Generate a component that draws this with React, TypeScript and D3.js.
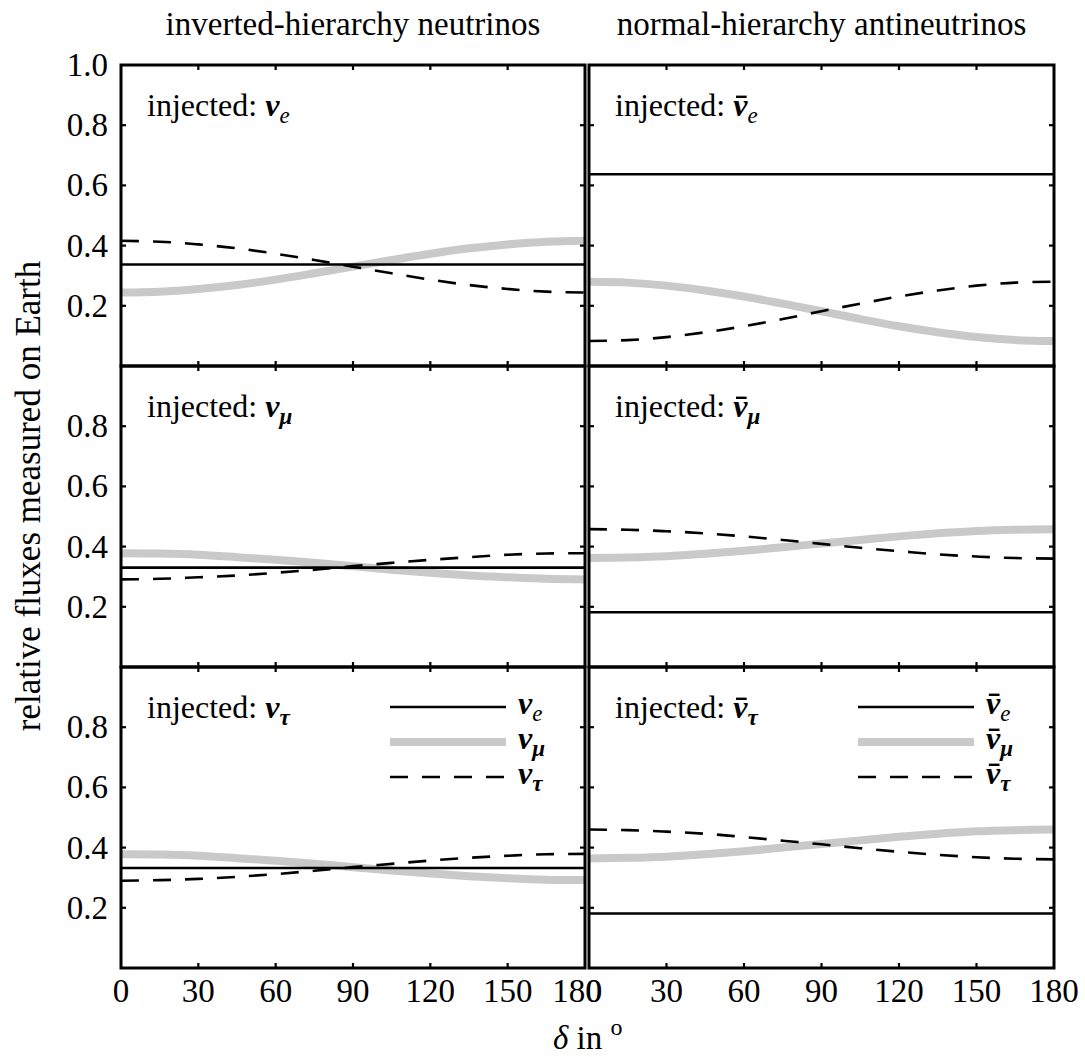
import React, { useLayoutEffect, useRef, useState } from "react";
import * as d3 from "d3";

const delta = [0, 15, 30, 45, 60, 75, 90, 105, 120, 135, 150, 165, 180];
const xTicks = [0, 30, 60, 90, 120, 150, 180];
const yTicksTop = [0.2, 0.4, 0.6, 0.8, 1.0];
const yTicksOther = [0.2, 0.4, 0.6, 0.8];
const innerTicks = [0.2, 0.4, 0.6, 0.8];

const columnTitles = ["inverted-hierarchy neutrinos", "normal-hierarchy antineutrinos"];
const flavours = ["e", "μ", "τ"];

// inverted hierarchy neutrinos
const ihInjE_e = [0.337, 0.337, 0.337, 0.337, 0.337, 0.337, 0.337, 0.337, 0.337, 0.337, 0.337, 0.337, 0.337];
const ihInjE_mu = [0.244, 0.247, 0.256, 0.269, 0.287, 0.308, 0.330, 0.352, 0.373, 0.391, 0.404, 0.413, 0.416];
const ihInjE_tau = [0.416, 0.413, 0.404, 0.391, 0.373, 0.352, 0.330, 0.308, 0.287, 0.269, 0.256, 0.247, 0.244];

const ihInjMu_e = [0.330, 0.330, 0.330, 0.330, 0.330, 0.330, 0.330, 0.330, 0.330, 0.330, 0.330, 0.330, 0.330];
const ihInjMu_mu = [0.378, 0.377, 0.373, 0.365, 0.356, 0.346, 0.335, 0.323, 0.313, 0.304, 0.298, 0.293, 0.291];
const ihInjMu_tau = [0.291, 0.293, 0.298, 0.304, 0.313, 0.323, 0.335, 0.346, 0.356, 0.365, 0.373, 0.377, 0.378];

const ihInjTau_e = [0.332, 0.332, 0.332, 0.332, 0.332, 0.332, 0.332, 0.332, 0.332, 0.332, 0.332, 0.332, 0.332];
const ihInjTau_mu = [0.378, 0.377, 0.373, 0.365, 0.356, 0.346, 0.335, 0.324, 0.314, 0.305, 0.298, 0.293, 0.292];
const ihInjTau_tau = [0.290, 0.292, 0.296, 0.303, 0.312, 0.323, 0.335, 0.346, 0.357, 0.366, 0.373, 0.378, 0.379];

// normal hierarchy antineutrinos
const nhInjE_e = [0.637, 0.637, 0.637, 0.637, 0.637, 0.637, 0.637, 0.637, 0.637, 0.637, 0.637, 0.637, 0.637];
const nhInjE_mu = [0.280, 0.277, 0.267, 0.251, 0.231, 0.207, 0.182, 0.156, 0.132, 0.112, 0.096, 0.086, 0.083];
const nhInjE_tau = [0.083, 0.086, 0.096, 0.112, 0.132, 0.156, 0.182, 0.207, 0.231, 0.251, 0.267, 0.277, 0.280];

const nhInjMu_e = [0.182, 0.182, 0.182, 0.182, 0.182, 0.182, 0.182, 0.182, 0.182, 0.182, 0.182, 0.182, 0.182];
const nhInjMu_mu = [0.362, 0.364, 0.368, 0.376, 0.386, 0.398, 0.410, 0.422, 0.434, 0.444, 0.452, 0.456, 0.458];
const nhInjMu_tau = [0.458, 0.456, 0.451, 0.444, 0.434, 0.422, 0.409, 0.396, 0.385, 0.374, 0.367, 0.362, 0.360];

const nhInjTau_e = [0.181, 0.181, 0.181, 0.181, 0.181, 0.181, 0.181, 0.181, 0.181, 0.181, 0.181, 0.181, 0.181];
const nhInjTau_mu = [0.364, 0.366, 0.370, 0.378, 0.388, 0.400, 0.412, 0.424, 0.436, 0.446, 0.454, 0.458, 0.460];
const nhInjTau_tau = [0.460, 0.458, 0.453, 0.446, 0.435, 0.423, 0.411, 0.398, 0.386, 0.376, 0.368, 0.363, 0.361];

const W = 1085;
const H = 1057;
const FONT = "'Liberation Serif', 'Times New Roman', Times, serif";
const GRAY = "#c9c9c9";
const colX: [number, number][] = [[121, 585], [589, 1054]];
const rowY: [number, number][] = [[65, 366], [366, 667], [667, 968]];

const panels = [
  { col: 0, row: 0, inj: 0, series: [ihInjE_e, ihInjE_mu, ihInjE_tau] },
  { col: 0, row: 1, inj: 1, series: [ihInjMu_e, ihInjMu_mu, ihInjMu_tau] },
  { col: 0, row: 2, inj: 2, series: [ihInjTau_e, ihInjTau_mu, ihInjTau_tau] },
  { col: 1, row: 0, inj: 0, series: [nhInjE_e, nhInjE_mu, nhInjE_tau] },
  { col: 1, row: 1, inj: 1, series: [nhInjMu_e, nhInjMu_mu, nhInjMu_tau] },
  { col: 1, row: 2, inj: 2, series: [nhInjTau_e, nhInjTau_mu, nhInjTau_tau] },
];

const styles = [
  { stroke: "#000", width: 2.6, dash: undefined as string | undefined },
  { stroke: GRAY, width: 8, dash: undefined as string | undefined },
  { stroke: "#000", width: 2.6, dash: "18 14" },
];

function NuLabel({ x, y, prefix, bar, sub, size }: { x: number; y: number; prefix: string; bar: boolean; sub: string; size: number }) {
  const ref = useRef<SVGTextElement>(null);
  const [ext, setExt] = useState<{ x: number; w: number } | null>(null);
  useLayoutEffect(() => {
    if (!bar || !ref.current) return;
    try {
      const r = ref.current.getExtentOfChar(prefix.length);
      setExt({ x: r.x, w: r.width });
    } catch (e) {
      setExt(null);
    }
  }, [bar, prefix]);
  return (
    <g>
      <text ref={ref} x={x} y={y} fontFamily={FONT} fontSize={size}>
        {prefix && <tspan>{prefix}</tspan>}
        <tspan fontWeight="bold" fontStyle="italic">ν</tspan>
        <tspan fontStyle="italic" fontWeight={sub === "e" ? "normal" : "bold"} fontSize={size * 0.72} dy={7}>
          {sub}
        </tspan>
      </text>
      {bar && ext && (
        <line
          x1={ext.x + ext.w * 0.2}
          x2={ext.x + ext.w * 0.95}
          y1={y - size * 0.6}
          y2={y - size * 0.6}
          stroke="#000"
          strokeWidth={2.4}
        />
      )}
    </g>
  );
}

export default function App() {
  return (
    <svg width={W} height={H} style={{ display: "block", position: "absolute", left: 0, top: 0, fontFamily: FONT }}>
      <rect width={W} height={H} fill="#fff" />
      {columnTitles.map((t, i) => (
        <text key={t} x={(colX[i][0] + colX[i][1]) / 2} y={35} textAnchor="middle" fontFamily={FONT} fontSize={33}>
          {t}
        </text>
      ))}
      {panels.map((p, pi) => {
        const [x0, x1] = colX[p.col];
        const [y0, y1] = rowY[p.row];
        const xs = d3.scaleLinear().domain([0, 180]).range([x0, x1]);
        const ys = d3.scaleLinear().domain([0, 1]).range([y1, y0]);
        const line = d3
          .line<number>()
          .x((_, i) => xs(delta[i]))
          .y((v) => ys(v))
          .curve(d3.curveCatmullRom);
        const order = [1, 0, 2];
        const bar = p.col === 1;
        return (
          <g key={pi}>
            {order.map((si) => (
              <path
                key={si}
                d={line(p.series[si]) || ""}
                fill="none"
                stroke={styles[si].stroke}
                strokeWidth={styles[si].width}
                strokeDasharray={styles[si].dash}
              />
            ))}
            <rect x={x0} y={y0} width={x1 - x0} height={y1 - y0} fill="none" stroke="#000" strokeWidth={3} />
            {xTicks.slice(1, -1).map((t) => (
              <g key={"xt" + t}>
                <line x1={xs(t)} x2={xs(t)} y1={y1} y2={y1 - 5} stroke="#000" strokeWidth={2.2} />
                <line x1={xs(t)} x2={xs(t)} y1={y0} y2={y0 + 5} stroke="#000" strokeWidth={2.2} />
              </g>
            ))}
            {innerTicks.map((t) => (
              <g key={"yt" + t}>
                <line x1={x0} x2={x0 + 5} y1={ys(t)} y2={ys(t)} stroke="#000" strokeWidth={2.2} />
                <line x1={x1} x2={x1 - 5} y1={ys(t)} y2={ys(t)} stroke="#000" strokeWidth={2.2} />
              </g>
            ))}
            <NuLabel x={x0 + 26} y={y0 + 51} prefix="injected: " bar={bar} sub={flavours[p.inj]} size={32} />
            {p.row === 2 &&
              flavours.map((f, fi) => {
                const ly = y0 + 40 + fi * 35;
                return (
                  <g key={"lg" + fi}>
                    <line
                      x1={x0 + 269}
                      x2={x0 + 385}
                      y1={ly}
                      y2={ly}
                      stroke={styles[fi].stroke}
                      strokeWidth={styles[fi].width}
                      strokeDasharray={styles[fi].dash}
                    />
                    <NuLabel x={x0 + 397} y={ly + 7} prefix="" bar={bar} sub={f} size={32} />
                  </g>
                );
              })}
            {p.row === 2 &&
              xTicks.map((t, ti) => {
                // the left column's 180 and the right column's 0 share one spot in the reference
                let lx = xs(t);
                if (p.col === 0 && ti === xTicks.length - 1) lx -= 8;
                if (p.col === 1 && ti === 0) lx += 5;
                return (
                  <text key={"xl" + t} x={lx} y={1002} textAnchor="middle" fontFamily={FONT} fontSize={33}>
                    {t}
                  </text>
                );
              })}
            {p.col === 0 &&
              (p.row === 0 ? yTicksTop : yTicksOther).map((t) => (
                <text key={"yl" + t} x={108} y={ys(t) + 11} textAnchor="end" fontFamily={FONT} fontSize={33}>
                  {t.toFixed(1)}
                </text>
              ))}
          </g>
        );
      })}
      <text transform={`translate(40, 496) rotate(-90)`} textAnchor="middle" fontFamily={FONT} fontSize={35}>
        relative fluxes measured on Earth
      </text>
      <text x={553} y={1049} fontFamily={FONT} fontSize={33}>
        <tspan fontStyle="italic">δ</tspan>
        <tspan> in </tspan>
        <tspan fontSize={24} dy={-14}>o</tspan>
      </text>
    </svg>
  );
}
